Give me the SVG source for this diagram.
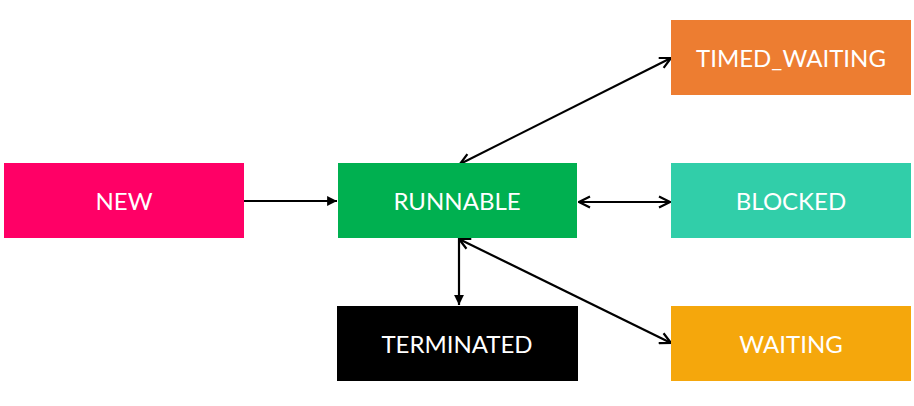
<svg xmlns="http://www.w3.org/2000/svg" width="914" height="406" viewBox="0 0 914 406">
<style>
.lbl{font-family:Lato,"Liberation Sans",Arial,sans-serif;font-size:24px;fill:#ffffff;text-anchor:middle}
.ln{stroke:#000;stroke-width:2.2;fill:none}
</style>
<defs>
<marker id="tri" viewBox="0 0 10 10" refX="10" refY="5" markerWidth="4.5" markerHeight="4.5" orient="auto-start-reverse" markerUnits="strokeWidth">
<path d="M0,0 L10,5 L0,10 z" fill="#000"/>
</marker>
<marker id="vee" viewBox="0 0 12 12" refX="11" refY="6" markerWidth="6" markerHeight="6" orient="auto-start-reverse" markerUnits="strokeWidth">
<path d="M1,1 L11,6 L1,11" fill="none" stroke="#000" stroke-width="2"/>
</marker>
</defs>
<rect width="914" height="406" fill="#ffffff"/>
<g id="connectors">
<line class="ln" x1="244" y1="201" x2="337" y2="201" marker-end="url(#tri)"/>
<line class="ln" x1="460" y1="164" x2="671" y2="58" marker-start="url(#vee)" marker-end="url(#vee)"/>
<line class="ln" x1="579" y1="202" x2="670" y2="202" marker-start="url(#vee)" marker-end="url(#vee)"/>
<line class="ln" x1="459" y1="239" x2="671" y2="343" marker-start="url(#vee)" marker-end="url(#vee)"/>
<line class="ln" x1="459" y1="238" x2="459" y2="305" marker-end="url(#tri)"/>
</g>
<g id="new"><rect x="4" y="163" width="240" height="75" fill="#FF0066"/><text class="lbl" x="124" y="210">NEW</text></g>
<g id="runnable"><rect x="338" y="163" width="239" height="75" fill="#00B050"/><text class="lbl" x="457" y="210">RUNNABLE</text></g>
<g id="timed_waiting"><rect x="671" y="20" width="240" height="75" fill="#ED7D31"/><text class="lbl" x="791" y="67">TIMED_WAITING</text></g>
<g id="blocked"><rect x="671" y="163" width="240" height="75" fill="#31CEA9"/><text class="lbl" x="791" y="210">BLOCKED</text></g>
<g id="waiting"><rect x="671" y="306" width="240" height="75" fill="#F5A70C"/><text class="lbl" x="791" y="353">WAITING</text></g>
<g id="terminated"><rect x="337" y="306" width="241" height="75" fill="#000000"/><text class="lbl" x="457" y="353">TERMINATED</text></g>
</svg>
